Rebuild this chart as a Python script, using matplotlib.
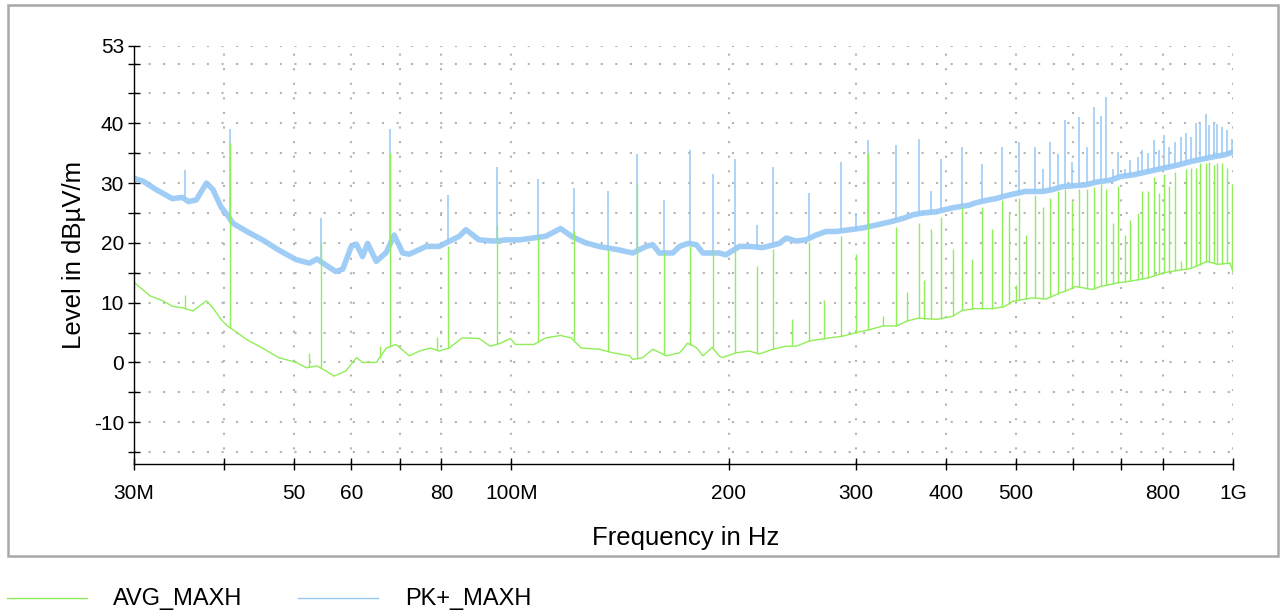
import matplotlib
matplotlib.use("Agg")
import matplotlib.pyplot as plt
import numpy as np
from matplotlib.lines import Line2D
from matplotlib.patches import Rectangle

plt.rcParams['font.family'] = ['Liberation Sans', 'DejaVu Sans']
plt.rcParams['axes.unicode_minus'] = False

# PK+ baseline (MHz, dBuV/m)
pk_freq = [30, 30.9, 32.2, 33.9, 35.0, 35.7, 36.6, 37.8, 38.6, 39.6, 40.4, 41.1,
           43.0, 45.2, 47.6, 50.3, 52.5, 53.8, 55.3, 57.1, 58.4, 60.0, 61.0, 62.2,
           63.2, 65.0, 67.1, 68.8, 70.7, 72.2, 76.2, 79.4, 84.7, 86.5, 90.2, 94.5,
           98.6, 102.7, 111.6, 117.0, 121.5, 126.8, 132.3, 141.2, 147.3, 153.7,
           157.0, 160.4, 167.4, 171.0, 175.7, 180.4, 184.3, 194.1, 198.3, 207.0,
           213.7, 223.0, 235.2, 240.3, 248.1, 256.1, 264.4, 273.0, 282.0, 294.6,
           307.3, 320.7, 334.6, 349.1, 360.4, 372.0, 388.2, 406.2, 430.7, 440.0,
           459.0, 468.9, 489.2, 515.9, 544.1, 561.8, 580.0, 624.8, 648.7, 677.0,
           698.9, 729.2, 760.9, 794.0, 837.5, 873.7, 930.9, 971.3, 1000]
pk_level = [30.8, 30.3, 28.9, 27.4, 27.6, 26.9, 27.2, 30.0, 28.9, 26.0, 24.7, 23.3,
            21.9, 20.5, 18.8, 17.2, 16.6, 17.3, 16.3, 15.2, 15.6, 19.4, 19.8, 17.7,
            19.9, 16.9, 18.4, 21.3, 18.3, 18.1, 19.4, 19.4, 21.1, 22.2, 20.5, 20.3,
            20.5, 20.5, 21.1, 22.4, 21.0, 20.0, 19.4, 18.8, 18.3, 19.4,
            19.7, 18.3, 18.3, 19.4, 19.9, 19.7, 18.3, 18.3, 18.0, 19.4,
            19.4, 19.2, 19.9, 20.8, 20.3, 20.5, 21.3, 21.9, 21.9, 22.2,
            22.5, 23.0, 23.5, 24.1, 24.7, 25.0, 25.2, 25.8, 26.3, 26.7,
            27.2, 27.4, 28.0, 28.6, 28.6, 28.9, 29.4, 29.7, 30.2, 30.5,
            31.1, 31.4, 31.9, 32.4, 33.0, 33.6, 34.3, 34.7, 35.2]

# AVG baseline (MHz, dBuV/m)
avg_freq = [30, 31.6, 32.9, 33.9, 35.1, 36.2, 37.8, 38.6, 39.6, 40.4, 41.1, 43.0,
            45.2, 47.6, 50.3, 52.0, 53.8, 55.3, 56.8, 59.0, 61.0, 62.2, 65.0, 67.1,
            69.2, 72.2, 74.6, 77.3, 79.4, 82.0, 85.5, 90.2, 93.5, 96.6, 99.7, 101.3,
            107.5, 111.6, 117.0, 121.0, 125.0, 132.3, 138.3, 146.0, 147.3, 152.1,
            157.0, 164.0, 171.0, 172.8, 175.4, 180.4, 184.3, 189.8, 194.1, 196.0,
            204.8, 213.7, 220.6, 230.3, 240.3, 248.1, 258.9, 276.4, 288.2, 301.0,
            314.1, 327.7, 342.1, 353.2, 366.3, 388.2, 408.4, 421.7, 440.0, 464.2,
            481.6, 494.9, 510.8, 527.4, 551.1, 575.0, 593.8, 603.9, 638.4, 655.6,
            691.5, 721.6, 760.9, 802.5, 837.5, 873.7, 921.1, 951.0, 990.5, 1000]
avg_level = [13.4, 11.1, 10.3, 9.4, 9.1, 8.6, 10.3, 9.1, 7.2, 6.1, 5.5, 3.8,
             2.4, 0.8, 0.0, -0.9, -0.6, -1.4, -2.3, -1.4, 0.8, 0.0, 0.0, 2.4,
             3.0, 1.1, 1.9, 2.4, 1.9, 2.4, 4.1, 4.0, 2.7, 3.2, 4.0, 3.0,
             3.0, 4.1, 4.5, 4.1, 2.4, 2.2, 1.6, 1.1, 0.5, 0.8,
             2.2, 1.1, 1.6, 2.2, 3.2, 2.5, 1.1, 2.5, 1.1, 0.8,
             1.6, 1.9, 1.4, 2.2, 2.7, 2.7, 3.6, 4.1, 4.4, 5.0,
             5.5, 6.1, 6.1, 6.9, 7.4, 7.2, 7.7, 8.7, 9.0, 9.0,
             9.3, 10.2, 10.5, 10.8, 10.6, 11.6, 12.2, 12.7, 12.2, 12.7,
             13.3, 13.6, 14.1, 15.0, 15.4, 15.7, 16.9, 16.4, 16.6, 15.2]

# narrowband spikes: frequency, PK+ top, AVG top (nan = no spike on that trace)
spike_freq = [35.3, 40.7, 52.5, 54.5, 65.7, 67.8, 79.0, 81.6, 95.6, 108.8,
              122, 136, 149.5, 163, 177, 190, 204, 218.8, 230.3, 245,
              258.9, 271, 286, 300.3, 312, 327, 340.7, 353, 366.8, 373,
              381.6, 393.5, 409, 421.7, 435, 448.6, 464, 479, 489, 500.7,
              504.9, 516, 532.5, 545, 558.5, 571.7, 584.6, 598.5, 612.7, 627.9,
              642.7, 656.6, 667.1, 682.1, 693.7, 707.9, 720.9, 737.5, 748.1, 761.6,
              778.1, 789.6, 802.5, 816.3, 830.7, 846.8, 861.9, 875.0, 889.9, 900,
              916, 926.4, 940.6, 950.9, 966.2, 981.8, 997.5]
spike_pk = [32.2, 39.1, np.nan, 24.1, np.nan, 39.1, np.nan, 28.0, 32.7, 30.7,
            29.1, 28.7, 34.8, 27.1, 35.5, 31.5, 34.0, 23.0, 32.7, np.nan,
            28.3, np.nan, 33.6, 25.0, 37.2, np.nan, 36.3, np.nan, 37.4, np.nan,
            28.7, 34.0, np.nan, 36.1, np.nan, 33.2, np.nan, 36.1, np.nan, np.nan,
            36.9, np.nan, 36.1, 32.3, 36.9, 34.8, 40.5, 33.6, 41.0, 36.1,
            42.8, 41.2, 44.4, 32.3, 35.2, 32.3, 33.9, 34.3, 35.5, 35.0,
            37.2, 35.5, 38.0, 36.1, 36.9, 37.7, 38.4, 37.7, 40.0, 40.0,
            41.6, 39.7, 40.0, 39.9, 39.4, 38.8, 37.4]
spike_avg = [11.2, 36.7, 1.6, 20.2, 2.7, 35.0, 4.3, 19.4, 23.0, 21.0,
             22.0, 18.8, 30.0, 18.3, 19.5, 18.8, 18.8, 16.2, 19.0, 7.3,
             20.2, 10.5, 21.2, 18.2, 35.0, 7.7, 22.7, 11.7, 23.3, 13.8,
             22.3, 24.3, 19.0, 26.0, 17.3, 26.0, 22.3, 27.2, 25.0, 13.0,
             27.5, 21.3, 28.0, 26.0, 27.5, 28.6, 29.0, 27.0, 29.0, 29.0,
             29.3, 29.8, 29.0, 23.4, 29.5, 21.3, 23.8, 25.0, 28.7, 28.7,
             31.0, 28.3, 31.5, 29.5, 31.9, 17.0, 32.3, 32.6, 32.6, 33.3,
             33.4, 33.6, 33.0, 33.3, 33.4, 32.6, 29.8]

x_ticks = [30, 40, 50, 60, 70, 80, 100, 200, 300, 400, 500, 600, 700, 800, 1000]
x_labels = ['30M', '', '50', '60', '', '80', '100M', '200', '300', '400', '500',
            '', '', '800', '1G']
y_ticks = [-10, 0, 10, 20, 30, 40, 53]
y_minor = [-15, -5, 5, 15, 25, 35, 45, 50]

BLUE = '#96c8f6'
GREEN = '#90ee58'


def base_at(freqs, base_f, base_v):
    # level of the baseline under each spike (log-frequency)
    return np.interp(np.log10(freqs), np.log10(base_f), base_v)


fig = plt.figure(figsize=(12.84, 6.11), dpi=100)
ax = fig.add_axes([134 / 1284, 1 - 464 / 611, 1099 / 1284, 418.4 / 611])

sf = np.array(spike_freq)
pk_top = np.array(spike_pk)
avg_top = np.array(spike_avg)

# PK+ trace (drawn wide: the real sweep is a dense noisy band)
ax.plot(pk_freq, pk_level, color=BLUE, lw=4.0, alpha=0.9)
m = ~np.isnan(pk_top)
ax.vlines(sf[m], base_at(sf[m], pk_freq, pk_level), pk_top[m], color=BLUE, lw=1.1)

# AVG trace
ax.plot(avg_freq, avg_level, color=GREEN, lw=1.0)
ax.vlines(sf, base_at(sf, avg_freq, avg_level), avg_top, color=GREEN, lw=1.0)

ax.set_xscale('log')
ax.set_xlim(30, 1000)
ax.set_ylim(-17, 53)
ax.set_xticks(x_ticks)
ax.set_xticklabels(x_labels)
ax.xaxis.set_minor_locator(matplotlib.ticker.NullLocator())
ax.set_yticks(y_ticks)
ax.set_yticks(y_minor, minor=True)

ax.grid(which='both', color='#b4b4b4', lw=1.5, linestyle=(0, (1, 6)))
ax.set_axisbelow(True)

for s in ['top', 'right']:
    ax.spines[s].set_visible(False)
for s in ['left', 'bottom']:
    ax.spines[s].set_linewidth(1.0)

ax.tick_params(axis='both', which='both', direction='inout', length=8.5,
               width=1.0, labelsize=15)
ax.tick_params(axis='x', pad=10)
ax.tick_params(axis='y', pad=3)

ax.set_xlabel('Frequency in Hz', fontsize=18.5)
ax.set_ylabel('Level in dBµV/m', fontsize=18.5)
ax.xaxis.set_label_coords(0.502, -0.148)
ax.yaxis.set_label_coords(-0.044, 0.5)

# grey frame around the plot
fig.add_artist(Rectangle((8 / 1284, 1 - 556 / 611), 1270 / 1284, 551 / 611,
                         transform=fig.transFigure, fill=False,
                         edgecolor='#a8a8a8', lw=1.8))

# legend below the frame
ly = 1 - 598 / 611
fig.add_artist(Line2D([7 / 1284, 87 / 1284], [ly, ly], color=GREEN, lw=1.0))
fig.add_artist(Line2D([298 / 1284, 378 / 1284], [ly, ly], color=BLUE, lw=1.0))
fig.text(113 / 1284, 6 / 611, 'AVG_MAXH', fontsize=17, va='baseline')
fig.text(405 / 1284, 6 / 611, 'PK+_MAXH', fontsize=17, va='baseline')

fig.savefig('out.png', dpi=100)
